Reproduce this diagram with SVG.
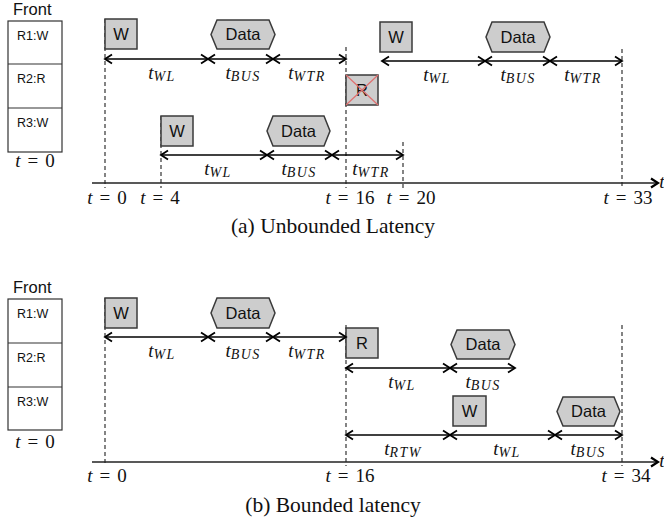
<svg xmlns="http://www.w3.org/2000/svg" width="664" height="524" viewBox="0 0 664 524">
  <style>
    .bg { fill: #ffffff; }
    .cmd { fill: #cdcdcd; stroke: #3a3a3a; stroke-width: 1.5; }
    .lbl { font-family: "Liberation Sans", Arial, sans-serif; font-size: 16.5px; fill: #111; text-anchor: middle; }
    .q { fill: #ffffff; stroke: #333; stroke-width: 1.2; }
    .qt { font-family: "Liberation Sans", Arial, sans-serif; font-size: 12.5px; fill: #111; }
    .front { font-family: "Liberation Sans", Arial, sans-serif; font-size: 16.5px; fill: #111; }
    .guide { stroke: #333; stroke-width: 1.2; stroke-dasharray: 4 3; fill: none; }
    .arr { stroke: #000; stroke-width: 1.6; fill: none; marker-start: url(#chev); marker-end: url(#chev); }
    .axis { stroke: #222; stroke-width: 1.5; fill: none; marker-end: url(#axhead); }
    .m { font-family: "Liberation Serif", "Times New Roman", serif; font-size: 19px; fill: #111; text-anchor: middle; }
    .it { font-style: italic; }
    .sub { font-family: "Liberation Serif", "Times New Roman", serif; font-style: italic; font-size: 14px; letter-spacing: 1.4px; }
    .cap { font-family: "Liberation Serif", "Times New Roman", serif; font-size: 21.5px; fill: #111; text-anchor: middle; }
    .cross { stroke: #e07070; stroke-width: 1.2; }
  </style>
  <defs>
    <marker id="chev" markerUnits="userSpaceOnUse" markerWidth="20" markerHeight="20" refX="0" refY="0" viewBox="-10 -10 20 20" orient="auto-start-reverse" overflow="visible">
      <path d="M-7,-4.5 L0,0 L-7,4.5" fill="none" stroke="#000" stroke-width="1.8" stroke-linejoin="miter"/>
    </marker>
    <marker id="axhead" markerUnits="userSpaceOnUse" markerWidth="20" markerHeight="20" refX="0" refY="0" viewBox="-10 -10 20 20" orient="auto" overflow="visible">
      <path d="M-7,-4.5 L0,0 L-7,4.5" fill="none" stroke="#000" stroke-width="2.2"/>
    </marker>
  </defs>

  <rect class="bg" x="0" y="0" width="664" height="524"/>

  <!-- ===== (a) Unbounded latency ===== -->
  <g id="queue-a">
    <text class="front" x="13" y="15">Front</text>
    <rect class="q" x="8" y="21" width="54" height="131"/>
    <line class="q" x1="8" y1="64" x2="62" y2="64"/>
    <line class="q" x1="8" y1="108" x2="62" y2="108"/>
    <text class="qt" x="17" y="40">R1:W</text>
    <text class="qt" x="17" y="83">R2:R</text>
    <text class="qt" x="17" y="127">R3:W</text>
    <text class="m" x="35" y="167"><tspan class="it">t</tspan><tspan dx="7">=</tspan><tspan dx="7">0</tspan></text>
  </g>

  <g id="guides-a">
    <line class="guide" x1="105" y1="19" x2="105" y2="188"/>
    <line class="guide" x1="161" y1="116" x2="161" y2="188"/>
    <line class="guide" x1="346" y1="47" x2="346" y2="188"/>
    <line class="guide" x1="403" y1="142" x2="403" y2="188"/>
    <line class="guide" x1="622" y1="49" x2="622" y2="188"/>
  </g>

  <g id="a-w1">
    <rect class="cmd" x="105" y="19" width="32" height="30"/>
    <text class="lbl" x="121" y="40">W</text>
  </g>
  <g id="a-data1">
    <path class="cmd" d="M211,34.5 L217,20 L269,20 L275,34.5 L269,49 L217,49 Z"/>
    <text class="lbl" x="243" y="40">Data</text>
  </g>
  <g id="a-w3">
    <rect class="cmd" x="380" y="22" width="32" height="30"/>
    <text class="lbl" x="396" y="43">W</text>
  </g>
  <g id="a-data3">
    <path class="cmd" d="M486,37 L492,22 L544,22 L550,37 L544,52 L492,52 Z"/>
    <text class="lbl" x="518" y="42.5">Data</text>
  </g>
  <g id="a-r2">
    <rect class="cmd" x="346" y="75" width="32" height="30"/>
    <text class="lbl" x="362" y="96">R</text>
    <line class="cross" x1="346" y1="75" x2="378" y2="105"/>
    <line class="cross" x1="378" y1="75" x2="346" y2="105"/>
  </g>
  <g id="a-w2">
    <rect class="cmd" x="161" y="116" width="32" height="30"/>
    <text class="lbl" x="177" y="137">W</text>
  </g>
  <g id="a-data2">
    <path class="cmd" d="M267,131 L273,116 L324,116 L330,131 L324,146 L273,146 Z"/>
    <text class="lbl" x="298.5" y="136.5">Data</text>
  </g>

  <g id="connectors-a">
    <line class="arr" x1="105" y1="59" x2="208" y2="59"/>
    <line class="arr" x1="208" y1="59" x2="273" y2="59"/>
    <line class="arr" x1="273" y1="59" x2="346" y2="59"/>
    <line class="arr" x1="382" y1="61" x2="485" y2="61"/>
    <line class="arr" x1="485" y1="61" x2="550" y2="61"/>
    <line class="arr" x1="550" y1="61" x2="622" y2="61"/>
    <line class="arr" x1="161" y1="155" x2="267" y2="155"/>
    <line class="arr" x1="267" y1="155" x2="332" y2="155"/>
    <line class="arr" x1="332" y1="155" x2="403" y2="155"/>
    <line class="axis" x1="92" y1="183" x2="658" y2="183"/>
  </g>

  <g id="labels-a">
    <text class="m" x="162" y="79"><tspan class="it">t</tspan><tspan class="sub" dy="1.5">WL</tspan></text>
    <text class="m" x="243" y="79"><tspan class="it">t</tspan><tspan class="sub" dy="1.5">BUS</tspan></text>
    <text class="m" x="307" y="79"><tspan class="it">t</tspan><tspan class="sub" dy="1.5">WTR</tspan></text>
    <text class="m" x="437" y="81"><tspan class="it">t</tspan><tspan class="sub" dy="1.5">WL</tspan></text>
    <text class="m" x="518" y="81"><tspan class="it">t</tspan><tspan class="sub" dy="1.5">BUS</tspan></text>
    <text class="m" x="583" y="81"><tspan class="it">t</tspan><tspan class="sub" dy="1.5">WTR</tspan></text>
    <text class="m" x="218" y="175"><tspan class="it">t</tspan><tspan class="sub" dy="1.5">WL</tspan></text>
    <text class="m" x="299" y="175"><tspan class="it">t</tspan><tspan class="sub" dy="1.5">BUS</tspan></text>
    <text class="m" x="371" y="175"><tspan class="it">t</tspan><tspan class="sub" dy="1.5">WTR</tspan></text>
    <text class="m it" x="662" y="188">t</text>
    <text class="m" x="107" y="204"><tspan class="it">t</tspan><tspan dx="7">=</tspan><tspan dx="7">0</tspan></text>
    <text class="m" x="160" y="204"><tspan class="it">t</tspan><tspan dx="7">=</tspan><tspan dx="7">4</tspan></text>
    <text class="m" x="350" y="204"><tspan class="it">t</tspan><tspan dx="7">=</tspan><tspan dx="7">16</tspan></text>
    <text class="m" x="411" y="204"><tspan class="it">t</tspan><tspan dx="7">=</tspan><tspan dx="7">20</tspan></text>
    <text class="m" x="628" y="204"><tspan class="it">t</tspan><tspan dx="7">=</tspan><tspan dx="7">33</tspan></text>
    <text class="cap" x="333" y="233">(a) Unbounded Latency</text>
  </g>

  <!-- ===== (b) Bounded latency ===== -->
  <g id="queue-b">
    <text class="front" x="13" y="293">Front</text>
    <rect class="q" x="8" y="299" width="54" height="131"/>
    <line class="q" x1="8" y1="343" x2="62" y2="343"/>
    <line class="q" x1="8" y1="387" x2="62" y2="387"/>
    <text class="qt" x="17" y="318">R1:W</text>
    <text class="qt" x="17" y="362">R2:R</text>
    <text class="qt" x="17" y="406">R3:W</text>
    <text class="m" x="35" y="448"><tspan class="it">t</tspan><tspan dx="7">=</tspan><tspan dx="7">0</tspan></text>
  </g>

  <g id="guides-b">
    <line class="guide" x1="105" y1="298" x2="105" y2="466"/>
    <line class="guide" x1="346" y1="325" x2="346" y2="466"/>
    <line class="guide" x1="622" y1="325" x2="622" y2="466"/>
  </g>

  <g id="b-w1">
    <rect class="cmd" x="105" y="298" width="32" height="30"/>
    <text class="lbl" x="121" y="319">W</text>
  </g>
  <g id="b-data1">
    <path class="cmd" d="M211,313 L217,298 L269,298 L275,313 L269,328 L217,328 Z"/>
    <text class="lbl" x="243" y="318.5">Data</text>
  </g>
  <g id="b-r2">
    <rect class="cmd" x="346" y="328" width="32" height="30"/>
    <text class="lbl" x="362" y="349">R</text>
  </g>
  <g id="b-data2">
    <path class="cmd" d="M451,344.5 L457,330 L509,330 L515,344.5 L509,359 L457,359 Z"/>
    <text class="lbl" x="483" y="350">Data</text>
  </g>
  <g id="b-w3">
    <rect class="cmd" x="453" y="396" width="33" height="30"/>
    <text class="lbl" x="469.5" y="417">W</text>
  </g>
  <g id="b-data3">
    <path class="cmd" d="M557,411.5 L563,397 L614,397 L620,411.5 L614,426 L563,426 Z"/>
    <text class="lbl" x="588.5" y="417">Data</text>
  </g>

  <g id="connectors-b">
    <line class="arr" x1="105" y1="337" x2="208" y2="337"/>
    <line class="arr" x1="208" y1="337" x2="273" y2="337"/>
    <line class="arr" x1="273" y1="337" x2="346" y2="337"/>
    <line class="arr" x1="346" y1="368" x2="450" y2="368"/>
    <line class="arr" x1="450" y1="368" x2="515" y2="368"/>
    <line class="arr" x1="346" y1="435" x2="450" y2="435"/>
    <line class="arr" x1="450" y1="435" x2="555" y2="435"/>
    <line class="arr" x1="555" y1="435" x2="622" y2="435"/>
    <line class="axis" x1="92" y1="462" x2="658" y2="462"/>
  </g>

  <g id="labels-b">
    <text class="m" x="162" y="357"><tspan class="it">t</tspan><tspan class="sub" dy="1.5">WL</tspan></text>
    <text class="m" x="243" y="357"><tspan class="it">t</tspan><tspan class="sub" dy="1.5">BUS</tspan></text>
    <text class="m" x="307" y="357"><tspan class="it">t</tspan><tspan class="sub" dy="1.5">WTR</tspan></text>
    <text class="m" x="402" y="388"><tspan class="it">t</tspan><tspan class="sub" dy="1.5">WL</tspan></text>
    <text class="m" x="483" y="388"><tspan class="it">t</tspan><tspan class="sub" dy="1.5">BUS</tspan></text>
    <text class="m" x="403" y="455"><tspan class="it">t</tspan><tspan class="sub" dy="1.5">RTW</tspan></text>
    <text class="m" x="507" y="455"><tspan class="it">t</tspan><tspan class="sub" dy="1.5">WL</tspan></text>
    <text class="m" x="588" y="455"><tspan class="it">t</tspan><tspan class="sub" dy="1.5">BUS</tspan></text>
    <text class="m it" x="662" y="467">t</text>
    <text class="m" x="107" y="482"><tspan class="it">t</tspan><tspan dx="7">=</tspan><tspan dx="7">0</tspan></text>
    <text class="m" x="350" y="482"><tspan class="it">t</tspan><tspan dx="7">=</tspan><tspan dx="7">16</tspan></text>
    <text class="m" x="626" y="482"><tspan class="it">t</tspan><tspan dx="7">=</tspan><tspan dx="7">34</tspan></text>
    <text class="cap" x="333" y="512">(b) Bounded latency</text>
  </g>
</svg>
